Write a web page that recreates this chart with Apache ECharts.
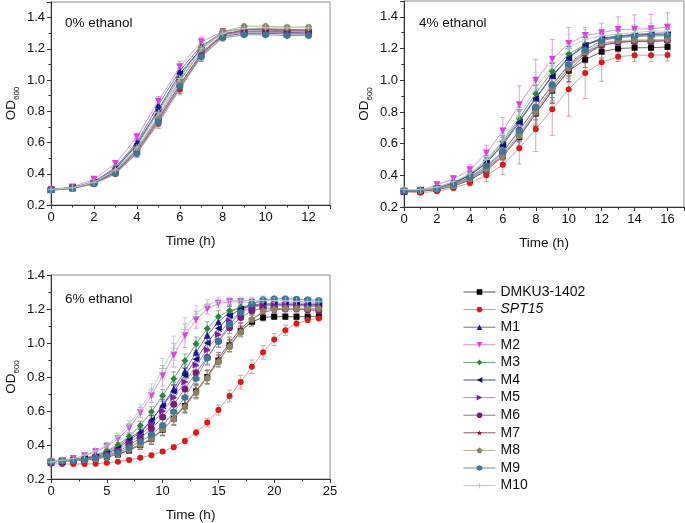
<!DOCTYPE html>
<html><head><meta charset="utf-8">
<script src="https://cdn.jsdelivr.net/npm/echarts@6/dist/echarts.min.js"></script>
<style>html,body{margin:0;padding:0;background:#fff}#c{width:685px;height:523px}</style>
</head><body><div id="c"></div>
<script>
// ---------- categories / names ----------
const strains = ['DMKU3-1402','SPT15','M1','M2','M3','M4','M5','M6','M7','M8','M9','M10'];
const panelTitles = ['0% ethanol','4% ethanol','6% ethanol'];
const time0 = [0,1,2,3,4,5,6,7,8,9,10,11,12];
const time4 = [0,1,2,3,4,5,6,7,8,9,10,11,12,13,14,15,16];
const time6 = [0,1,2,3,4,5,6,7,8,9,10,11,12,13,14,15,16,17,18,19,20,21,22,23,24];

// ---------- 0% ethanol ----------
const p0_DMKU = [0.30,0.31,0.34,0.41,0.55,0.75,0.97,1.17,1.28,1.30,1.30,1.295,1.295];
const p0_SPT15 = [0.295,0.305,0.34,0.40,0.535,0.72,0.94,1.15,1.28,1.31,1.315,1.31,1.31];
const p0_M1 = [0.30,0.31,0.35,0.44,0.60,0.84,1.06,1.22,1.30,1.31,1.31,1.305,1.30];
const p0_M2 = [0.30,0.315,0.365,0.465,0.635,0.865,1.085,1.245,1.31,1.325,1.325,1.32,1.32];
const p0_M3 = [0.30,0.31,0.345,0.43,0.58,0.80,1.02,1.21,1.31,1.33,1.33,1.325,1.32];
const p0_M4 = [0.30,0.31,0.345,0.43,0.59,0.81,1.04,1.20,1.30,1.31,1.31,1.305,1.30];
const p0_M5 = [0.295,0.31,0.34,0.42,0.56,0.77,1.00,1.18,1.29,1.31,1.31,1.30,1.30];
const p0_M6 = [0.30,0.31,0.34,0.41,0.55,0.75,0.97,1.17,1.29,1.32,1.32,1.315,1.315];
const p0_M7 = [0.30,0.305,0.34,0.41,0.54,0.74,0.95,1.16,1.29,1.325,1.325,1.32,1.32];
const p0_M8 = [0.30,0.31,0.345,0.42,0.555,0.76,0.99,1.20,1.31,1.345,1.345,1.34,1.34];
const p0_M9 = [0.295,0.305,0.335,0.40,0.53,0.73,0.96,1.15,1.27,1.29,1.29,1.285,1.285];
const p0_M10 = [0.30,0.31,0.345,0.425,0.57,0.79,1.01,1.20,1.30,1.33,1.335,1.335,1.335];
const e0_typ = [0.01,0.01,0.01,0.015,0.025,0.03,0.035,0.03,0.02,0.015,0.015,0.015,0.015];

// ---------- 4% ethanol ----------
const p4_DMKU = [0.30,0.30,0.31,0.33,0.37,0.43,0.52,0.64,0.79,0.935,1.06,1.13,1.18,1.20,1.205,1.205,1.21];
const p4_SPT15 = [0.295,0.29,0.30,0.32,0.352,0.40,0.466,0.571,0.69,0.817,0.943,1.045,1.113,1.148,1.158,1.158,1.16];
const p4_M1 = [0.30,0.305,0.32,0.35,0.40,0.475,0.60,0.745,0.89,1.03,1.145,1.225,1.265,1.28,1.29,1.295,1.30];
const p4_M2 = [0.30,0.305,0.34,0.378,0.435,0.54,0.68,0.845,1.00,1.133,1.232,1.282,1.30,1.32,1.322,1.325,1.335];
const p4_M3 = [0.30,0.305,0.325,0.355,0.405,0.49,0.612,0.76,0.917,1.056,1.165,1.225,1.255,1.27,1.275,1.28,1.28];
const p4_M4 = [0.30,0.305,0.32,0.35,0.40,0.48,0.59,0.735,0.885,1.025,1.14,1.22,1.26,1.275,1.285,1.29,1.29];
const p4_M5 = [0.30,0.30,0.315,0.34,0.38,0.445,0.53,0.66,0.81,0.95,1.08,1.17,1.23,1.245,1.25,1.25,1.255];
const p4_M6 = [0.30,0.305,0.315,0.345,0.385,0.45,0.545,0.685,0.83,0.97,1.095,1.175,1.22,1.24,1.245,1.245,1.25];
const p4_M7 = [0.30,0.30,0.31,0.335,0.375,0.44,0.525,0.645,0.79,0.935,1.06,1.16,1.22,1.24,1.245,1.245,1.25];
const p4_M8 = [0.31,0.305,0.315,0.335,0.38,0.44,0.52,0.65,0.80,0.945,1.08,1.18,1.235,1.25,1.255,1.255,1.26];
const p4_M9 = [0.30,0.305,0.32,0.345,0.39,0.46,0.55,0.68,0.83,0.97,1.10,1.19,1.25,1.27,1.28,1.285,1.285];
const p4_M10 = [0.31,0.31,0.325,0.36,0.41,0.50,0.62,0.78,0.95,1.09,1.20,1.26,1.28,1.29,1.30,1.31,1.31];
const e4_typ = [0.01,0.01,0.01,0.015,0.025,0.035,0.05,0.07,0.08,0.08,0.07,0.05,0.04,0.04,0.04,0.04,0.04];
const e4_SPT15 = [0.01,0.01,0.01,0.015,0.02,0.04,0.06,0.10,0.14,0.165,0.17,0.16,0.12,0.03,0.04,0.04,0.04];
const e4_M2 = [0.01,0.01,0.01,0.02,0.03,0.05,0.085,0.12,0.13,0.125,0.10,0.05,0.06,0.08,0.09,0.09,0.09];
const e4_M10 = [0.01,0.01,0.01,0.015,0.03,0.04,0.06,0.08,0.10,0.10,0.09,0.06,0.05,0.05,0.05,0.05,0.05];

// ---------- 6% ethanol ----------
const p6_DMKU = [0.30,0.305,0.31,0.31,0.32,0.33,0.345,0.37,0.40,0.435,0.49,0.555,0.63,0.715,0.80,0.895,0.985,1.07,1.125,1.15,1.155,1.155,1.155,1.155,1.155];
const p6_SPT15 = [0.29,0.288,0.288,0.288,0.29,0.295,0.302,0.312,0.325,0.34,0.362,0.387,0.424,0.473,0.532,0.606,0.688,0.77,0.86,0.945,1.02,1.075,1.115,1.135,1.145];
const p6_M1 = [0.30,0.305,0.315,0.32,0.335,0.36,0.39,0.44,0.48,0.545,0.635,0.73,0.835,0.945,1.045,1.125,1.18,1.21,1.225,1.23,1.235,1.235,1.235,1.235,1.235];
const p6_M2 = [0.30,0.307,0.32,0.337,0.36,0.392,0.436,0.50,0.59,0.69,0.807,0.928,1.043,1.137,1.20,1.232,1.242,1.242,1.24,1.235,1.23,1.23,1.228,1.225,1.225];
const p6_M3 = [0.31,0.31,0.315,0.325,0.34,0.365,0.40,0.45,0.515,0.595,0.69,0.79,0.895,0.995,1.085,1.155,1.19,1.21,1.22,1.22,1.22,1.22,1.22,1.22,1.22];
const p6_M4 = [0.30,0.305,0.31,0.32,0.33,0.35,0.38,0.43,0.47,0.545,0.63,0.715,0.81,0.905,1.00,1.085,1.16,1.20,1.22,1.225,1.225,1.225,1.225,1.225,1.225];
const p6_M5 = [0.30,0.305,0.31,0.315,0.325,0.345,0.37,0.415,0.455,0.52,0.60,0.68,0.77,0.87,0.96,1.05,1.13,1.18,1.21,1.22,1.22,1.22,1.22,1.215,1.215];
const p6_M6 = [0.30,0.305,0.31,0.315,0.325,0.34,0.36,0.40,0.44,0.495,0.565,0.64,0.73,0.825,0.915,1.01,1.09,1.15,1.19,1.205,1.205,1.20,1.20,1.195,1.19];
const p6_M7 = [0.30,0.305,0.31,0.31,0.32,0.33,0.345,0.37,0.40,0.435,0.49,0.56,0.635,0.72,0.80,0.91,1.00,1.085,1.14,1.18,1.195,1.20,1.20,1.20,1.20];
const p6_M8 = [0.31,0.31,0.31,0.315,0.32,0.33,0.35,0.375,0.405,0.44,0.495,0.555,0.625,0.71,0.795,0.89,0.98,1.065,1.14,1.19,1.20,1.205,1.205,1.205,1.205];
const p6_M9 = [0.30,0.305,0.31,0.315,0.325,0.335,0.355,0.385,0.42,0.46,0.515,0.595,0.68,0.79,0.91,1.01,1.11,1.18,1.23,1.255,1.26,1.26,1.258,1.255,1.25];
const p6_M10 = [0.30,0.31,0.32,0.34,0.365,0.40,0.45,0.52,0.61,0.72,0.85,0.97,1.08,1.17,1.225,1.245,1.25,1.25,1.25,1.25,1.25,1.248,1.245,1.245,1.245];
const e6_typ = [0.01,0.01,0.01,0.01,0.01,0.012,0.015,0.02,0.025,0.03,0.035,0.04,0.04,0.04,0.04,0.035,0.035,0.03,0.025,0.02,0.015,0.015,0.015,0.015,0.015];
const e6_SPT15 = [0.01,0.01,0.01,0.01,0.01,0.01,0.01,0.01,0.01,0.012,0.012,0.015,0.015,0.02,0.025,0.03,0.035,0.04,0.04,0.04,0.035,0.03,0.02,0.015,0.015];
const e6_M2 = [0.01,0.01,0.01,0.01,0.015,0.015,0.02,0.025,0.03,0.04,0.06,0.07,0.07,0.05,0.03,0.025,0.02,0.02,0.02,0.02,0.02,0.02,0.02,0.02,0.02];

// ---------- styling ----------
const markerColors = ['#000000','#e3161e','#1a1a9a','#e23fe0','#27873a','#10107c','#7d1fa5','#7b1b7d','#7a1f3f','#8b8460','#3b7895','#a9c3c3'];
const lineColors = ['#555555','#c99696','#6a6aa8','#d88ad8','#6a9a72','#4a4a8c','#b28ac6','#9b6a9b','#8c5864','#b5b08a','#6f90a2','#b8cdcd'];
const symbols = ['rect','circle','triangle',
  'path://M0,0L10,0L5,8.66Z','diamond',
  'path://M8.66,0L8.66,10L0,5Z','path://M0,0L0,10L8.66,5Z',
  'circle',
  'path://M5,0L6.18,3.6L10,3.6L6.9,5.85L8.1,9.5L5,7.25L1.9,9.5L3.1,5.85L0,3.6L3.82,3.6Z',
  'path://M5,0L10,3.6L8.1,9.5L1.9,9.5L0,3.6Z',
  'path://M5,0L9.33,2.5L9.33,7.5L5,10L0.67,7.5L0.67,2.5Z',
  'path://M4.4,0L5.6,0L5.6,4.4L10,4.4L10,5.6L5.6,5.6L5.6,10L4.4,10L4.4,5.6L0,5.6L0,4.4L4.4,4.4Z'];
const symSizes = [6,6,7,7,7,7,7,7,7,7,7,7];

const panels = [
  {t: time0, vals: [p0_DMKU,p0_SPT15,p0_M1,p0_M2,p0_M3,p0_M4,p0_M5,p0_M6,p0_M7,p0_M8,p0_M9,p0_M10],
   errs: [e0_typ,e0_typ,e0_typ,e0_typ,e0_typ,e0_typ,e0_typ,e0_typ,e0_typ,e0_typ,e0_typ,e0_typ]},
  {t: time4, vals: [p4_DMKU,p4_SPT15,p4_M1,p4_M2,p4_M3,p4_M4,p4_M5,p4_M6,p4_M7,p4_M8,p4_M9,p4_M10],
   errs: [e4_typ,e4_SPT15,e4_typ,e4_M2,e4_typ,e4_typ,e4_typ,e4_typ,e4_typ,e4_typ,e4_typ,e4_M10]},
  {t: time6, vals: [p6_DMKU,p6_SPT15,p6_M1,p6_M2,p6_M3,p6_M4,p6_M5,p6_M6,p6_M7,p6_M8,p6_M9,p6_M10],
   errs: [e6_typ,e6_SPT15,e6_typ,e6_M2,e6_typ,e6_typ,e6_typ,e6_typ,e6_typ,e6_typ,e6_typ,e6_M2]}
];

const FONT = 'Liberation Sans, Arial, sans-serif';
const grids = [
  {left: 51, top: 2, width: 279, height: 203},
  {left: 404, top: 1, width: 280, height: 206},
  {left: 51, top: 275, width: 279, height: 205}
];
const xCfg = [{max: 13, interval: 2}, {max: 17, interval: 2}, {max: 25, interval: 5}];
const yCfg = [{max: 1.5}, {max: 1.5}, {max: 1.4}];

const chart = echarts.init(document.getElementById('c'));

const xAxis = [], yAxis = [], series = [];
grids.forEach((g, i) => {
  xAxis.push({
    type: 'value', gridIndex: i, min: 0, max: xCfg[i].max, interval: xCfg[i].interval,
    name: 'Time (h)', nameLocation: 'middle', nameGap: 29,
    nameTextStyle: {fontFamily: FONT, fontSize: 13.5, color: '#111'},
    axisLine: {show: true, onZero: false, lineStyle: {color: '#333', width: 1}},
    axisTick: {show: true, inside: false, length: 4, lineStyle: {color: '#333'}},
    minorTick: {show: true, splitNumber: 2, length: 2.5, lineStyle: {color: '#333'}},
    axisLabel: {fontFamily: FONT, fontSize: 13, color: '#111', margin: 6, showMaxLabel: i === 2},
    splitLine: {show: false}, minorSplitLine: {show: false}
  });
  yAxis.push({
    type: 'value', gridIndex: i, min: 0.2, max: yCfg[i].max, interval: 0.2,
    name: '{base|OD}{sub|600}', nameLocation: 'middle', nameGap: 30, nameRotate: 90,
    nameTextStyle: {fontFamily: FONT, fontSize: 13.5, color: '#111',
      rich: {
        base: {fontFamily: FONT, fontSize: 13.5, color: '#111', lineHeight: 20, verticalAlign: 'middle'},
        sub: {fontFamily: FONT, fontSize: 8, color: '#111', lineHeight: 8, verticalAlign: 'bottom'}
      }},
    axisLine: {show: true, onZero: false, lineStyle: {color: '#333', width: 1}},
    axisTick: {show: true, inside: false, length: 4, lineStyle: {color: '#333'}},
    minorTick: {show: true, splitNumber: 2, length: 2.5, lineStyle: {color: '#333'}},
    axisLabel: {fontFamily: FONT, fontSize: 13, color: '#111', margin: 6, showMaxLabel: i === 2,
      formatter: v => v.toFixed(1)},
    splitLine: {show: false}, minorSplitLine: {show: false}
  });
});

panels.forEach((p, pi) => {
  strains.forEach((name, si) => {
    const vals = p.vals[si], errs = p.errs[si];
    series.push({
      name: '__err', type: 'custom', xAxisIndex: pi, yAxisIndex: pi, z: 1, silent: true,
      data: p.t.map((t, k) => [t, vals[k], errs[k]]),
      encode: {x: 0, y: 1},
      renderItem: (params, api) => {
        const x = api.value(0), y = api.value(1), e = api.value(2);
        const hi = api.coord([x, y + e]), lo = api.coord([x, y - e]);
        const st = {stroke: lineColors[si], lineWidth: 0.8};
        return {type: 'group', children: [
          {type: 'line', shape: {x1: hi[0], y1: hi[1], x2: lo[0], y2: lo[1]}, style: st},
          {type: 'line', shape: {x1: hi[0] - 2.5, y1: hi[1], x2: hi[0] + 2.5, y2: hi[1]}, style: st},
          {type: 'line', shape: {x1: lo[0] - 2.5, y1: lo[1], x2: lo[0] + 2.5, y2: lo[1]}, style: st}
        ]};
      }
    });
    series.push({
      name: name, type: 'line', xAxisIndex: pi, yAxisIndex: pi, z: 2 + si,
      data: p.t.map((t, k) => [t, vals[k]]),
      symbol: symbols[si], symbolSize: symSizes[si], showSymbol: true,
      lineStyle: {color: lineColors[si], width: 0.9},
      itemStyle: {color: markerColors[si], borderWidth: 0},
      animation: false
    });
  });
});

const graphic = [
  {type: 'text', left: 65, top: 16, style: {text: panelTitles[0], font: '13.5px ' + FONT, fill: '#111'}},
  {type: 'text', left: 419, top: 16, style: {text: panelTitles[1], font: '13.5px ' + FONT, fill: '#111'}},
  {type: 'text', left: 65, top: 292, style: {text: panelTitles[2], font: '13.5px ' + FONT, fill: '#111'}}
];

chart.setOption({
  animation: false,
  backgroundColor: '#fff',
  grid: grids.map(g => Object.assign({show: true, borderColor: '#8c8c8c', borderWidth: 1, backgroundColor: 'transparent', containLabel: false}, g)),
  xAxis, yAxis, series, graphic,
  legend: {
    data: strains, orient: 'vertical', left: 463, top: 285, padding: 0,
    itemWidth: 32, itemHeight: 7, itemGap: 3.6,
    lineStyle: {width: 1},
    textStyle: {fontFamily: FONT, fontSize: 14, color: '#111', lineHeight: 14,
      rich: {i: {fontFamily: FONT, fontSize: 14, fontStyle: 'italic', color: '#111'}}},
    formatter: n => n === 'SPT15' ? '{i|SPT15}' : n,
    selectedMode: false
  }
});
</script></body></html>
